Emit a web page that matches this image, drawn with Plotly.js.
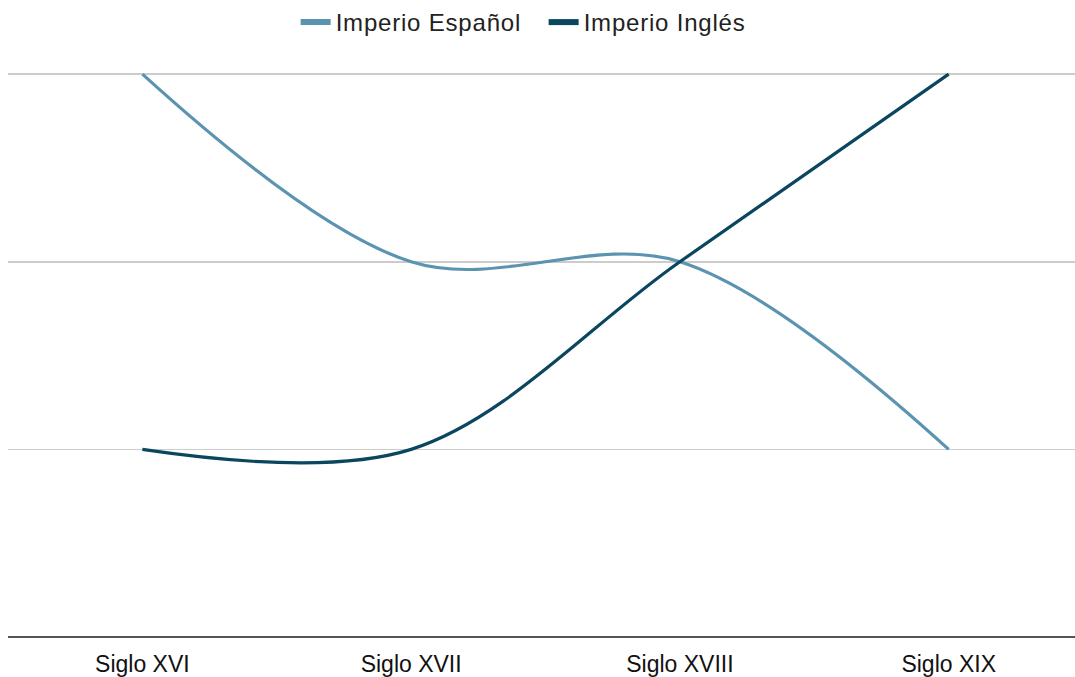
<!DOCTYPE html>
<html>
<head>
<meta charset="utf-8">
<script src="https://cdn.plot.ly/plotly-3.0.1.min.js"></script>
<style>html,body{margin:0;padding:0;background:#fff;}#chart{width:1075px;height:677px;}
.legendtext{letter-spacing:0.8px;}</style>
</head>
<body>
<div id="chart"></div>
<script>
const categories = ["Siglo XVI", "Siglo XVII", "Siglo XVIII", "Siglo XIX"];
const imperioEspanol = [3, 2, 2, 1];
const imperioIngles = [1, 1, 2, 3];
const seriesNames = ["Imperio Español", "Imperio Inglés"];
const colors = ["#5b94b0", "#0b465f"];

const series = [imperioEspanol, imperioIngles];
const traces = [];
series.forEach((vals, i) => {
  traces.push({
    x: categories, y: vals, type: "scatter", mode: "lines",
    name: seriesNames[i], showlegend: false, cliponaxis: false,
    line: {color: colors[i], width: 3.2, shape: "spline", smoothing: 1}
  });
});
series.forEach((vals, i) => {
  traces.push({
    x: [null], y: [null], type: "scatter", mode: "lines",
    name: seriesNames[i], showlegend: true,
    line: {color: colors[i], width: 6}
  });
});

const layout = {
  width: 1075, height: 677,
  margin: {l: 8, r: 0, t: 70, b: 40, autoexpand: false},
  paper_bgcolor: "#fff", plot_bgcolor: "#fff",
  font: {family: "Liberation Sans, Arial, sans-serif", size: 23, color: "#222"},
  showlegend: true,
  legend: {orientation: "h", x: 0.502, xanchor: "center", xref: "paper",
           yref: "container", y: 1.0, yanchor: "top", entrywidth: 203,
           font: {size: 24, color: "#222"}, itemwidth: 30, tracegroupgap: 0},
  xaxis: {type: "category", range: [-0.5, 3.47], showgrid: false, zeroline: false,
          showline: false, ticks: "outside", ticklen: 6, tickcolor: "rgba(0,0,0,0)",
          tickfont: {size: 23, color: "#111"}},
  yaxis: {range: [0, 3.022], tickvals: [1, 2, 3], showticklabels: false, showgrid: true,
          gridcolor: "#cccccc", gridwidth: 1.5, zeroline: true, zerolinecolor: "#555",
          zerolinewidth: 2, fixedrange: true}
};

Plotly.newPlot("chart", traces, layout, {displayModeBar: false, staticPlot: true});
</script>
</body>
</html>
